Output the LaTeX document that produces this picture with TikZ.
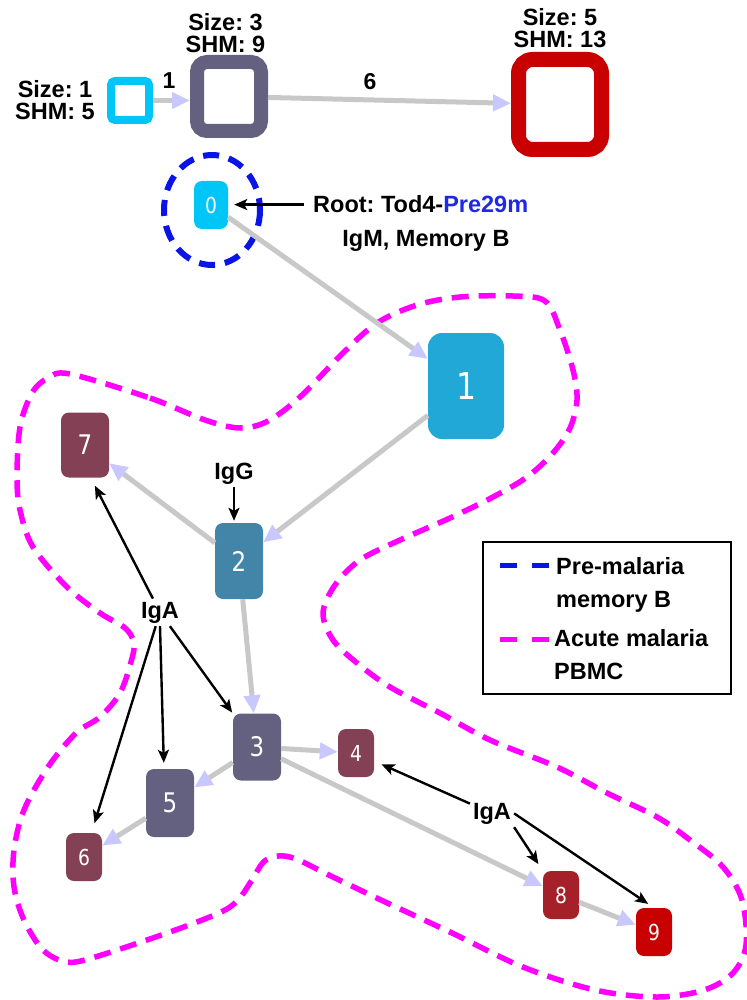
\documentclass[tikz,border=0pt]{standalone}
\usepackage{fontspec}
\setmainfont{Liberation Sans}
\newfontfamily\numfont[FakeStretch=0.85]{DejaVu Sans}
\usetikzlibrary{arrows.meta,calc}
\frenchspacing

\definecolor{cyanA}{HTML}{00C6F8}
\definecolor{blueB}{HTML}{22A8D6}
\definecolor{tealC}{HTML}{4385A9}
\definecolor{slateD}{HTML}{646080}
\definecolor{wineE}{HTML}{844155}
\definecolor{brickF}{HTML}{A6202A}
\definecolor{redG}{HTML}{C80000}
\definecolor{edgegray}{HTML}{C8C8C8}
\definecolor{edgetip}{HTML}{C8C8FF}
\definecolor{hullmag}{HTML}{FF00FF}
\definecolor{hullblue}{HTML}{0A14E6}
\definecolor{rootblue}{HTML}{1E28E6}

\begin{document}
\begin{tikzpicture}[x=1pt,y=-1pt,
  clone/.style={rectangle, rounded corners=8pt, inner sep=0pt, text=white,
    minimum width=36pt, minimum height=48pt,
    font=\numfont\fontsize{22}{22}\selectfont},
  midclone/.style={clone, minimum width=48pt, minimum height=67pt,
    font=\numfont\fontsize{27}{27}\selectfont},
  bigclone/.style={clone, rounded corners=14pt, minimum width=76pt, minimum height=106pt,
    font=\numfont\fontsize{37}{37}\selectfont},
  keybox/.style={rectangle, fill=white, inner sep=0pt},
  lab/.style={font=\bfseries\fontsize{23.5}{22}\selectfont, align=center, inner sep=0pt},
  tag/.style={font=\bfseries\fontsize{23.5}{22}\selectfont, inner sep=3pt},
  lineage/.style={draw=edgegray, line width=5pt,
    -{Triangle[length=18pt,width=16pt,color=edgetip]}},
  ann/.style={draw=black, line width=2.4pt,
    -{Stealth[length=13pt,width=11pt,inset=3pt]}},
  hull/.style={draw=hullmag, line width=5.5pt, dash pattern=on 17pt off 10pt},
  prehull/.style={draw=hullblue, line width=6pt, dash pattern=on 16pt off 10pt},
]
\useasboundingbox (0,0) rectangle (746,1000);

% ---- key: node size and mutation count ----
\node[keybox, draw=cyanA, line width=8pt, rounded corners=4pt,
      minimum width=38pt, minimum height=39pt] (sq1) at (130,100.5) {};
\node[keybox, draw=slateD, line width=14pt, rounded corners=10pt,
      minimum width=64pt, minimum height=69pt] (sq2) at (229,96.5) {};
\node[keybox, draw=redG, line width=15pt, rounded corners=14pt,
      minimum width=83pt, minimum height=90pt] (sq3) at (560,104.5) {};

\node[lab] (k1) at (55,99.7) {Size: 1\\SHM: 5};
\node[lab] (k2) at (225.5,33) {Size: 3\\SHM: 9};
\node[lab] (k3) at (560,28.5) {Size: 5\\SHM: 13};

\draw[lineage] (sq1.east) -- (sq1.east -| sq2.west);
\draw[lineage] (sq2) -- (sq3);
\node[font=\bfseries\fontsize{23}{23}\selectfont] (d1) at (169,81) {1};
\node[font=\bfseries\fontsize{23}{23}\selectfont] (d6) at (370,82) {6};

% ---- acute malaria PBMC region ----
\draw[hull] plot[smooth cycle, tension=0.55] coordinates {
  (70,374) (150,398) (205,420) (240,428) (268,421) (300,397) (343,353)
  (377,323) (417,305) (460,297) (513,296) (545,301) (560,330) (573,370)
  (577,400) (570,428) (553,453) (527,477) (493,497) (450,518) (400,540)
  (360,560) (335,585) (323,613) (333,640) (357,663) (390,687) (440,713)
  (490,740) (557,767) (607,793) (657,817) (690,840) (723,867) (742,900)
  (746,945) (733,973) (704,990) (657,997) (595,990) (523,967) (452,933)
  (381,900) (333,877) (290,857) (266,860) (252,880) (238,900) (219,913)
  (167,933) (95,957) (67,962) (43,950) (24,920) (14,887) (14,850)
  (24,810) (48,767) (76,733) (100,717) (120,693) (131,662) (134,643)
  (125,628) (100,613) (67,587) (33,547) (20,510) (17,477) (20,427)
  (32,393) (48,378)};

% ---- clone nodes ----
\node[clone, fill=cyanA, minimum width=34pt] (n0) at (211,205) {0};
\node[bigclone, fill=blueB] (n1) at (466,386) {1};
\node[midclone, fill=tealC, minimum height=76pt] (n2) at (239,561) {2};
\node[midclone, fill=slateD] (n3) at (257,747) {3};
\node[clone, fill=wineE] (n4) at (356,753) {4};
\node[midclone, fill=slateD, minimum height=68pt] (n5) at (170,803) {5};
\node[clone, fill=wineE] (n6) at (84,857) {6};
\node[midclone, fill=wineE, minimum height=65pt] (n7) at (85,445) {7};
\node[clone, fill=brickF] (n8) at (561,895) {8};
\node[clone, fill=redG] (n9) at (654,932) {9};

% ---- pre-malaria memory B region ----
\draw[prehull] (212,210) ellipse [x radius=48, y radius=55];

% ---- lineage edges ----
\draw[lineage] (n0) -- (n1);
\draw[lineage] (n1) -- (n2);
\draw[lineage] (n2) -- (n7);
\draw[lineage] (n2) -- (n3);
\draw[lineage] (n3) -- (n4);
\draw[lineage] (n3) -- (n5);
\draw[lineage] (n3) -- (n8);
\draw[lineage] (n5) -- (n6);
\draw[lineage] (n8) -- (n9);

% ---- annotations ----
\node[tag, anchor=base west, inner sep=0pt] (rootA) at (313,213)
  {Root: Tod4-\textcolor{rootblue}{Pre29m}};
\node[tag, anchor=base] (rootB) at (426,247) {IgM, Memory B};
\draw[ann, shorten <=9pt, shorten >=6pt] (rootA.west) -- (rootA.west -| n0.east);

\node[tag, anchor=base] (igg) at (234,479) {IgG};
\draw[ann, shorten >=2pt] (igg.south) -- (igg.south |- n2.north);

\node[tag, anchor=base] (igaL) at (160,618) {IgA};
\draw[ann, shorten >=9pt] (igaL) -- (n7.-80);
\draw[ann, shorten >=1pt] (igaL) -- (n3);
\draw[ann, shorten >=6pt] (igaL.south) -- (n5.100);
\draw[ann, shorten >=10pt] (igaL) -- (n6);

\node[tag, anchor=base] (igaR) at (492,819) {IgA};
\draw[ann, shorten >=8pt] (igaR) -- (n4);
\draw[ann, shorten >=8pt] (igaR.south east) -- (n8.north west);
\draw[ann, shorten >=7pt] (igaR.east) -- (n9.north);

% ---- legend ----
\node[draw=black, line width=2.5pt, minimum width=248pt, minimum height=152pt,
      inner sep=0pt] (legend) at (607,618) {};
\node[tag, anchor=base west, inner sep=0pt] (lg1) at (556,574) {Pre-malaria};
\node[tag, anchor=base west, inner sep=0pt] (lg2) at (556,607) {memory B};
\node[tag, anchor=base west, inner sep=0pt] (lg3) at (554,646) {Acute malaria};
\node[tag, anchor=base west, inner sep=0pt] (lg4) at (554,679) {PBMC};
\draw[draw=hullblue, line width=4.5pt, dash pattern=on 17pt off 15pt]
  ($(lg1.west)+(-56,0)$) -- ++(49,0);
\draw[draw=hullmag, line width=4.5pt, dash pattern=on 17pt off 15pt]
  ($(lg3.west)+(-54,2)$) -- ++(49,0);
\end{tikzpicture}
\end{document}
